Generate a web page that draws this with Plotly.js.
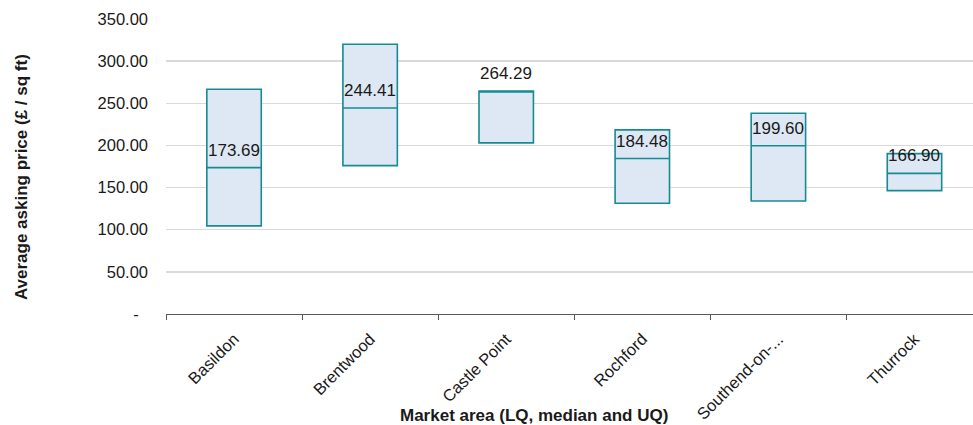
<!DOCTYPE html>
<html>
<head>
<meta charset="utf-8">
<script src="https://cdn.plot.ly/plotly-3.0.1.min.js"></script>
<style>
  html, body { margin: 0; padding: 0; background: #ffffff; overflow: hidden; }
  #chart { width: 973px; height: 425px; }
</style>
</head>
<body>
<div id="chart"></div>
<script>
// Data
const categories = ["Basildon", "Brentwood", "Castle Point", "Rochford", "Southend-on-...", "Thurrock"];
const lowerQuartile = [104.5, 176.0, 203.0, 131.4, 134.1, 146.4];
const median = [173.69, 244.41, 264.29, 184.48, 199.60, 166.90];
const upperQuartile = [266.7, 320.1, 264.6, 218.4, 238.2, 190.3];
const medianLabels = ["173.69", "244.41", "264.29", "184.48", "199.60", "166.90"];
const yTickValues = [0, 50, 100, 150, 200, 250, 300, 350];
const yTickText = ["-\u00a0\u00a0", "50.00", "100.00", "150.00", "200.00", "250.00", "300.00", "350.00"];

const FONT = "Liberation Sans, Arial, sans-serif";
const TEXT = "#1a1a1a";

const trace = {
  type: "box",
  x: categories,
  q1: lowerQuartile,
  median: median,
  q3: upperQuartile,
  lowerfence: lowerQuartile,
  upperfence: upperQuartile,
  width: 0.4,
  whiskerwidth: 0,
  boxpoints: false,
  fillcolor: "#dde8f4",
  line: { color: "#168b91", width: 1.6 },
  hoverinfo: "skip",
  showlegend: false
};

const labelAnnotations = categories.map((c, i) => ({
  x: c,
  y: median[i],
  xref: "x",
  yref: "y",
  text: medianLabels[i],
  showarrow: false,
  xanchor: "center",
  yanchor: "bottom",
  yshift: 6,
  font: { family: FONT, size: 17, color: TEXT }
}));

const layout = {
  width: 973,
  height: 425,
  margin: { l: 166, r: 0, t: 19, b: 111 },
  paper_bgcolor: "#ffffff",
  plot_bgcolor: "#ffffff",
  font: { family: FONT, size: 16.5, color: TEXT },
  xaxis: {
    type: "category",
    range: [-0.5, 5.43],
    tickson: "boundaries",
    ticks: "outside",
    ticklen: 5,
    tickwidth: 1,
    tickcolor: "#595959",
    showline: true,
    linecolor: "#595959",
    linewidth: 1,
    showgrid: false,
    tickangle: -45,
    ticklabelstandoff: 8,
    tickfont: { family: FONT, size: 16.5, color: TEXT },
    fixedrange: true
  },
  yaxis: {
    range: [0, 350],
    tickmode: "array",
    tickvals: yTickValues,
    ticktext: yTickText,
    showgrid: true,
    gridcolor: "#d9d9d9",
    gridwidth: 1.5,
    zeroline: false,
    showline: false,
    ticks: "",
    ticklabelstandoff: 17,
    tickfont: { family: FONT, size: 16.5, color: TEXT },
    fixedrange: true
  },
  annotations: labelAnnotations.concat([
    {
      xref: "paper", yref: "paper",
      x: -0.1788, y: 0.463,
      xanchor: "center", yanchor: "middle",
      textangle: -90,
      text: "<b>Average asking price (£ / sq ft)</b>",
      showarrow: false,
      font: { family: FONT, size: 17, color: TEXT }
    },
    {
      xref: "paper", yref: "paper",
      x: 0.4556, y: -0.343,
      xanchor: "center", yanchor: "middle",
      text: "<b>Market area (LQ, median and UQ)</b>",
      showarrow: false,
      font: { family: FONT, size: 17, color: TEXT }
    }
  ])
};

Plotly.newPlot("chart", [trace], layout, { displayModeBar: false, staticPlot: true });
</script>
</body>
</html>
